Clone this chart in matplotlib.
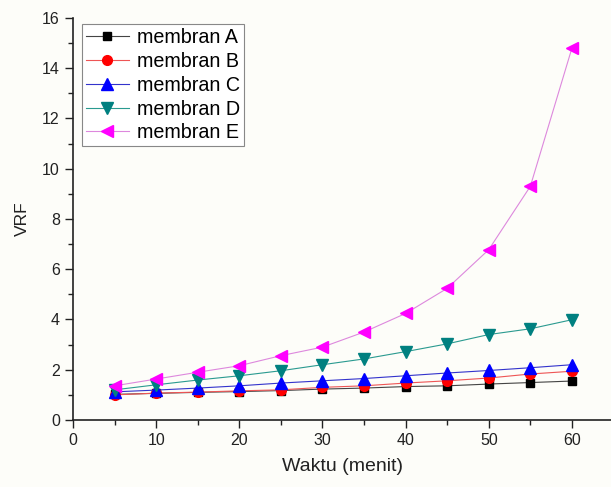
import matplotlib
matplotlib.use("Agg")
import matplotlib.pyplot as plt
from matplotlib.ticker import MultipleLocator

plt.rcParams['font.family'] = ['Liberation Sans', 'DejaVu Sans']

# waktu (menit)
waktu = [5, 10, 15, 20, 25, 30, 35, 40, 45, 50, 55, 60]

# VRF per membran
vrf_A = [1.02, 1.06, 1.10, 1.13, 1.17, 1.23, 1.27, 1.33, 1.36, 1.43, 1.49, 1.55]
vrf_B = [1.00, 1.07, 1.11, 1.16, 1.20, 1.30, 1.36, 1.47, 1.56, 1.67, 1.83, 1.94]
vrf_C = [1.12, 1.19, 1.27, 1.36, 1.47, 1.56, 1.65, 1.76, 1.87, 1.97, 2.08, 2.20]
vrf_D = [1.20, 1.40, 1.59, 1.76, 1.96, 2.20, 2.43, 2.72, 3.03, 3.40, 3.63, 3.99]
vrf_E = [1.36, 1.63, 1.90, 2.16, 2.56, 2.90, 3.50, 4.24, 5.24, 6.78, 9.30, 14.80]

labels = ["membran A", "membran B", "membran C", "membran D", "membran E"]

fig = plt.figure(figsize=(6.11, 4.87), dpi=100)
fig.patch.set_facecolor("#fdfdf9")
ax = fig.add_axes([0.1195, 0.1376, 0.8805, 0.8255])
ax.set_facecolor("#fdfdf9")

ax.plot(waktu, vrf_A, "-s", color="#444444", mfc="black", mec="black", ms=6, lw=0.8, label=labels[0])
ax.plot(waktu, vrf_B, "-o", color="#ee5555", mfc="red", mec="red", ms=7, lw=0.8, label=labels[1])
ax.plot(waktu, vrf_C, "-^", color="#3333cc", mfc="blue", mec="blue", ms=8, lw=0.8, label=labels[2])
ax.plot(waktu, vrf_D, "-v", color="#2a9a90", mfc="#008080", mec="#008080", ms=8, lw=0.8, label=labels[3])
ax.plot(waktu, vrf_E, "-<", color="#dd88dd", mfc="#ff00ff", mec="#ff00ff", ms=8, lw=0.8, label=labels[4])

ax.set_xlim(0, 64.7)
ax.set_ylim(0, 16)
ax.xaxis.set_major_locator(MultipleLocator(10))
ax.xaxis.set_minor_locator(MultipleLocator(5))
ax.yaxis.set_major_locator(MultipleLocator(2))
ax.yaxis.set_minor_locator(MultipleLocator(1))
ax.tick_params(which="major", length=6, width=1, direction="out", labelsize=11.5, colors="#222222")
ax.tick_params(which="minor", length=3.5, width=1, direction="out", colors="#222222")

for s in ["top", "right"]:
    ax.spines[s].set_visible(False)
for s in ["left", "bottom"]:
    ax.spines[s].set_linewidth(1.2)
    ax.spines[s].set_color("#222222")

ax.set_xlabel("Waktu (menit)", fontsize=14, labelpad=7, color="#222222")
ax.set_ylabel("VRF", fontsize=12.5, labelpad=9, color="#222222")

leg = ax.legend(loc="upper left", bbox_to_anchor=(0.016, 0.984), fontsize=14.2, fancybox=False,
                framealpha=1, edgecolor="#888888", handlelength=2.2, labelspacing=0.24,
                borderpad=0.2, handletextpad=0.4, borderaxespad=0)
leg.get_frame().set_linewidth(0.8)

fig.savefig("out.png", dpi=100, facecolor=fig.get_facecolor())
